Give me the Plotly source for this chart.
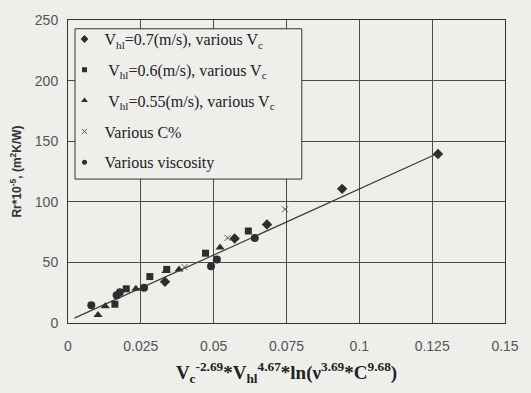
import plotly.graph_objects as go

# ---- data ----
vhl07_x = [0.0333, 0.0572, 0.0683, 0.0941, 0.1270]
vhl07_y = [34.0, 69.7, 81.3, 110.7, 139.4]

vhl06_x = [0.0161, 0.0200, 0.0281, 0.0339, 0.0472, 0.0619]
vhl06_y = [15.5, 28.2, 38.3, 44.2, 57.6, 75.9]

vhl055_x = [0.0103, 0.0128, 0.0233, 0.0336, 0.0381, 0.0522]
vhl055_y = [6.7, 13.9, 28.2, 43.0, 44.2, 62.2]

conc_x = [0.0400, 0.0548, 0.0745]
conc_y = [46.1, 70.2, 93.8]

visc_x = [0.0080, 0.0167, 0.0178, 0.0261, 0.0491, 0.0511, 0.0641]
visc_y = [14.7, 22.8, 25.4, 29.0, 46.9, 52.3, 70.2]

fit_x = [0.0022, 0.1270]
fit_y = [4.0, 140.0]

x_ticks = [0, 0.025, 0.05, 0.075, 0.1, 0.125, 0.15]
x_tick_text = ["0", "0.025", "0.05", "0.075", "0.1", "0.125", "0.15"]
y_ticks = [0, 50, 100, 150, 200, 250]

names = [
    "V<sub>hl</sub>=0.7(m/s), various V<sub>c</sub>",
    " V<sub>hl</sub>=0.6(m/s), various V<sub>c</sub>",
    " V<sub>hl</sub>=0.55(m/s), various V<sub>c</sub>",
    "Various C%",
    "Various viscosity",
]

ink = "#2e2e2e"
bg = "#eeeeeb"

fig = go.Figure()
fig.add_trace(go.Scatter(x=fit_x, y=fit_y, mode="lines",
                         line=dict(color="#3a3a3a", width=1.2),
                         showlegend=False, hoverinfo="skip"))

series = [
    (vhl07_x, vhl07_y, "diamond", 8, 6, names[0]),
    (vhl06_x, vhl06_y, "square", 7, 5, names[1]),
    (vhl055_x, vhl055_y, "triangle-up", 8, 6, names[2]),
    (conc_x, conc_y, "x-thin", 6, 5, names[3]),
    (visc_x, visc_y, "circle", 8, 5, names[4]),
]
for i, (xs, ys, sym, sz, lsz, nm) in enumerate(series):
    mk = dict(symbol=sym, size=sz, color=ink)
    lmk = dict(symbol=sym, size=lsz, color=ink)
    if sym == "x-thin":
        mk["line"] = dict(color="#555", width=1)
        lmk["line"] = dict(color="#555", width=1)
    fig.add_trace(go.Scatter(x=xs, y=ys, mode="markers", name=nm,
                             showlegend=False, marker=mk))
    # legend-only entry with the smaller legend marker
    fig.add_trace(go.Scatter(x=[None], y=[None], mode="markers", name=nm,
                             legendgroup="g%d" % i, marker=lmk))

# legend frame (drawn as a box so the entries can sit like the original)
fig.add_shape(type="rect", xref="paper", yref="paper",
              x0=0.016, x1=0.535, y0=0.475, y1=0.971,
              line=dict(color="#333", width=1), fillcolor=bg, layer="above")

grid = "#4a4a4a"
fig.update_layout(
    width=531, height=393,
    margin=dict(l=68, r=14, t=13, b=70),
    paper_bgcolor=bg, plot_bgcolor=bg,
    showlegend=True,
    legend=dict(
        x=-0.008, y=0.993, xanchor="left", yanchor="top",
        bgcolor="rgba(0,0,0,0)", borderwidth=0,
        font=dict(family="Liberation Serif", size=16, color="#222"),
        tracegroupgap=7, itemwidth=30,
    ),
    xaxis=dict(
        range=[0, 0.15], tickvals=x_ticks, ticktext=x_tick_text,
        showgrid=True, gridcolor=grid, gridwidth=1,
        showline=True, linecolor="#333", linewidth=1, mirror=True,
        zeroline=False, ticks="", ticklabelstandoff=10,
        tickfont=dict(family="Liberation Sans", size=14, color="#555"),
        title=dict(
            text="<b>V<sub>c</sub><sup>-2.69</sup>*V<sub>hl</sub><sup>4.67</sup>*ln(ν<sup>3.69</sup>*C<sup>9.68</sup>)</b>",
            font=dict(family="Liberation Serif", size=19, color="#222"),
            standoff=12,
        ),
    ),
    yaxis=dict(
        range=[0, 250], tickvals=y_ticks,
        showgrid=True, gridcolor=grid, gridwidth=1,
        showline=True, linecolor="#333", linewidth=1, mirror=True,
        zeroline=False, ticks="", ticklabelstandoff=6,
        tickfont=dict(family="Liberation Sans", size=14, color="#555"),
        title=dict(
            text="<b>Rr*10<sup>-5</sup>, (m<sup>2</sup>K/W)</b>",
            font=dict(family="Liberation Sans", size=12, color="#333"),
            standoff=10,
        ),
    ),
)

fig.write_html("out.html")
